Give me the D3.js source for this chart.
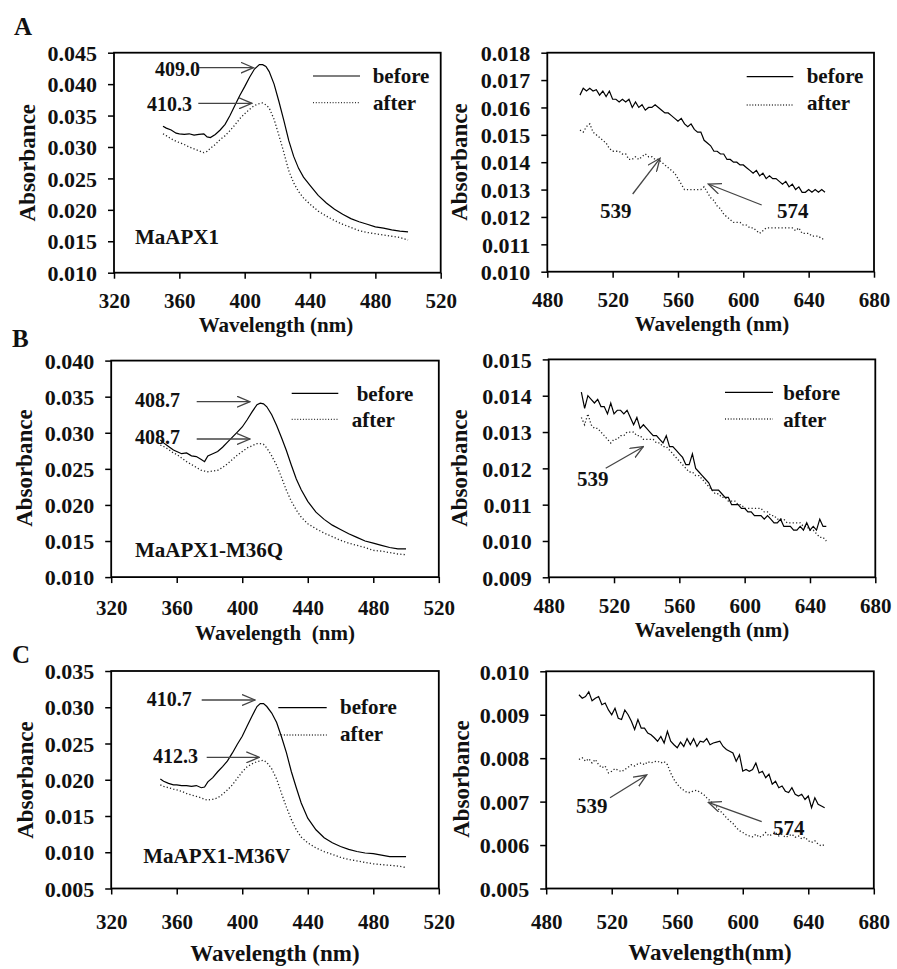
<!DOCTYPE html>
<html><head><meta charset="utf-8">
<script src="https://cdn.jsdelivr.net/npm/d3@7"></script>
<style>
body{margin:0;background:#fff;}
svg text{font-family:"Liberation Serif","Times New Roman",serif;font-weight:bold;fill:#111;}
</style></head><body>
<svg id="chart" width="897" height="969"></svg>
<script>
// ---------------- DATA ----------------
const wlSoret = [350,352,355,358,360,363,366,369,372,375,377,379,382,385,388,391,394,397,400,403,406,409,411,413,415,418,421,424,427,430,433,436,440,445,450,455,460,465,470,475,480,485,490,495,500];
const wlVis = [500,502,504,506,508,510,512,514,516,518,520,522,524,526,528,530,532,534,536,538,540,542,544,546,548,550,552,554,556,558,560,562,564,566,568,570,572,574,576,578,580,582,584,586,588,590,592,594,596,598,600,602,604,606,608,610,612,614,616,618,620,622,624,626,628,630,632,634,636,638,640,642,644,646,648,650];

const soretBeforeA = [.0333,.0330,.0327,.0322,.0321,.0320,.0321,.0319,.0320,.0321,.0316,.0315,.0320,.0327,.0336,.0350,.0366,.0382,.0396,.0411,.0424,.0431,.0431,.0428,.0420,.0400,.0372,.0342,.0310,.0285,.0266,.0252,.0239,.0223,.0211,.0201,.0193,.0186,.0181,.0177,.0173,.0171,.0168,.0166,.0165];
const soretAfterA  = [.0321,.0318,.0313,.0309,.0307,.0304,.0300,.0297,.0294,.0291,.0293,.0298,.0304,.0312,.0318,.0326,.0335,.0345,.0353,.0360,.0366,.0369,.0370,.0367,.0362,.0344,.0318,.0291,.0262,.0243,.0229,.0219,.0209,.0198,.0190,.0183,.0177,.0172,.0167,.0164,.0162,.0160,.0158,.0156,.0152];
const soretBeforeB = [.0290,.0286,.0281,.0276,.0274,.0271,.0272,.0268,.0267,.0263,.0260,.0268,.0271,.0274,.0280,.0287,.0294,.0301,.0308,.0318,.0329,.0339,.0341,.0340,.0336,.0325,.0310,.0293,.0275,.0255,.0236,.0221,.0205,.0190,.0180,.0172,.0166,.0160,.0155,.0150,.0147,.0144,.0141,.0139,.0139];
const soretAfterB  = [.0283,.0281,.0277,.0272,.0270,.0265,.0260,.0256,.0252,.0248,.0247,.0246,.0247,.0248,.0252,.0257,.0263,.0269,.0274,.0279,.0282,.0285,.0285,.0284,.0279,.0268,.0255,.0238,.0220,.0205,.0193,.0183,.0174,.0167,.0161,.0156,.0151,.0147,.0144,.0141,.0137,.0136,.0134,.0132,.0131];
const soretBeforeC = [.0201,.0198,.0195,.0193,.0193,.0192,.0192,.0191,.0192,.0189,.0190,.0197,.0203,.0211,.0218,.0226,.0237,.0249,.0260,.0274,.0288,.0301,.0305,.0305,.0301,.0292,.0279,.0259,.0237,.0211,.0189,.0168,.0147,.0131,.0120,.0113,.0108,.0104,.0101,.0099,.0098,.0096,.0094,.0094,.0094];
const soretAfterC  = [.0193,.0191,.0189,.0187,.0186,.0184,.0181,.0179,.0177,.0175,.0173,.0172,.0173,.0175,.0180,.0186,.0193,.0202,.0211,.0218,.0222,.0225,.0226,.0227,.0224,.0215,.0201,.0181,.0162,.0145,.0131,.0121,.0113,.0106,.0101,.0097,.0093,.0090,.0088,.0086,.0084,.0083,.0082,.0081,.0079];

const visBeforeA = [.01645,.0167,.0166,.0167,.0166,.01665,.01645,.0166,.0164,.0166,.0163,.0163,.0162,.0163,.0162,.0163,.0160,.0162,.0160,.0161,.0159,.0160,.0160,.0161,.0160,.0159,.0158,.0158,.0157,.0156,.0155,.0156,.0154,.0153,.0154,.0152,.0151,.0151,.0148,.0147,.0146,.0144,.0144,.0143,.0143,.0141,.0141,.0140,.0140,.0139,.0139,.0138,.0137,.0136,.0137,.0135,.0136,.0134,.0135,.0134,.0134,.0133,.0132,.0133,.0131,.0132,.0130,.0131,.0129,.0129,.0130,.0129,.0130,.0129,.0130,.0129];
const visAfterA  = [.01517,.0151,.0153,.0154,.0151,.0150,.0149,.0148,.0147,.0145,.0144,.0144,.0144,.0143,.0143,.0141,.0141,.0142,.0141,.0142,.0143,.0142,.0142,.0141,.0141,.0140,.0139,.0138,.0137,.0136,.0134,.0132,.0130,.0130,.0130,.0130,.0130,.0130,.0131,.0129,.0127,.0126,.0124,.0123,.0121,.0120,.0119,.0118,.0118,.0118,.0117,.0117,.0116,.0116,.0115,.0114,.0115,.0116,.0116,.0116,.0116,.0116,.0116,.0116,.0116,.0116,.0115,.0116,.0114,.0114,.0114,.0113,.0113,.0113,.0112,.0112];
const visBeforeB = [.0141,.01365,.0140,.0139,.0138,.0139,.0137,.0137,.0135,.0138,.0135,.0136,.0136,.0135,.0136,.0134,.0132,.0134,.0131,.0132,.0131,.0130,.0129,.0129,.0128,.0127,.0129,.0126,.0126,.0125,.0124,.0123,.0121,.0121,.0124,.0120,.0119,.0118,.0117,.0116,.0114,.0114,.0114,.0113,.0112,.0112,.0110,.0110,.0110,.0109,.0109,.0108,.0108,.0107,.0107,.0107,.0106,.0107,.0106,.0105,.0105,.0106,.0104,.0104,.0104,.0103,.0103,.0104,.0103,.0105,.0103,.0104,.0103,.0106,.0104,.0104];
const visAfterB  = [.0134,.0132,.0135,.0132,.0131,.0131,.0130,.0129,.0128,.0127,.0128,.0128,.0129,.0129,.0130,.0130,.0130,.0129,.0129,.0128,.0128,.0128,.0128,.0127,.0127,.0126,.0126,.0125,.0124,.0123,.0122,.0121,.0120,.0119,.0119,.0118,.0118,.0117,.0116,.0115,.0114,.0113,.0113,.0112,.0112,.0111,.0111,.0111,.0110,.0110,.0109,.0109,.0109,.0109,.0109,.0109,.0108,.0108,.0107,.0107,.0106,.0106,.0106,.0105,.0105,.0105,.0105,.0105,.0104,.0104,.0103,.0103,.0102,.0101,.0101,.0100];
const visBeforeC = [.00946,.00938,.00942,.00953,.00932,.00938,.00942,.00923,.00927,.00911,.00900,.00915,.00892,.00889,.00911,.00900,.00885,.00866,.00889,.00869,.00869,.00858,.00854,.00847,.00839,.00850,.00835,.00862,.00839,.00831,.00824,.00837,.00827,.00845,.00831,.00845,.00827,.00839,.00837,.00845,.00831,.00835,.00837,.00839,.00827,.00820,.00816,.00812,.00793,.00808,.00770,.00774,.00770,.00774,.00789,.00766,.00770,.00755,.00763,.00740,.00747,.00732,.00736,.00724,.00721,.00732,.00717,.00713,.00717,.00705,.00713,.00686,.00709,.00694,.00690,.00686];
const visAfterC  = [.00797,.00801,.00793,.00799,.00789,.00797,.00785,.00778,.00782,.00766,.00770,.00776,.00772,.00769,.00774,.00779,.00785,.00782,.00787,.00789,.00785,.00792,.00789,.00792,.00793,.00789,.00792,.00785,.00766,.00751,.00740,.00732,.00726,.00721,.00721,.00725,.00726,.00721,.00717,.00709,.00702,.00695,.00688,.00679,.00672,.00663,.00656,.00650,.00640,.00633,.00629,.00624,.00621,.00619,.00625,.00618,.00621,.00629,.00621,.00625,.00629,.00621,.00625,.00618,.00621,.00625,.00618,.00621,.00614,.00618,.00610,.00606,.00610,.00602,.00598,.00601];

const xTicksSoret = [320,360,400,440,480,520];
const xTicksVis = [480,520,560,600,640,680];
const yTicksA1 = [0.010,0.015,0.020,0.025,0.030,0.035,0.040,0.045];
const yTicksA2 = [0.010,0.011,0.012,0.013,0.014,0.015,0.016,0.017,0.018];
const yTicksB1 = [0.010,0.015,0.020,0.025,0.030,0.035,0.040];
const yTicksB2 = [0.009,0.010,0.011,0.012,0.013,0.014,0.015];
const yTicksC1 = [0.005,0.010,0.015,0.020,0.025,0.030,0.035];
const yTicksC2 = [0.005,0.006,0.007,0.008,0.009,0.010];
const seriesNames = ["before","after"];

// ---------------- DRAW ----------------
const svg = d3.select("#chart");
const defs = svg.append("defs");
defs.append("marker").attr("id","ah").attr("viewBox","0 0 14 12").attr("refX",13).attr("refY",6)
  .attr("markerWidth",14).attr("markerHeight",12).attr("markerUnits","userSpaceOnUse").attr("orient","auto")
  .append("path").attr("d","M0,0.5 L13,6 L0,11.5").attr("fill","none").attr("stroke","#444").attr("stroke-width",1.3);

function panel(c){
  const x = d3.scaleLinear().domain(c.xd).range([c.x0,c.x1]);
  const y = d3.scaleLinear().domain(c.yd).range([c.y1,c.y0]);
  const g = svg.append("g");
  // axes
  const ax = g.append("g").attr("transform",`translate(0,${c.y1})`)
    .call(d3.axisBottom(x).tickValues(c.xt).tickSize(6).tickSizeOuter(0).tickFormat(d3.format("d")));
  ax.select(".domain").remove();
  ax.selectAll("line").attr("stroke","#000").attr("stroke-width",1.5);
  ax.selectAll("text").attr("y",c.xlb).attr("dy",0).style("font-size","21px").attr("fill","#111");
  const ay = g.append("g").attr("transform",`translate(${c.x0},0)`)
    .call(d3.axisLeft(y).tickValues(c.yt).tickSize(6).tickSizeOuter(0).tickFormat(d3.format(".3f")));
  ay.select(".domain").remove();
  ay.selectAll("line").attr("stroke","#000").attr("stroke-width",1.5);
  ay.selectAll("text").attr("x",-17).attr("dy","0.35em").style("font-size","22px").attr("fill","#111");
  // frame
  g.append("rect").attr("x",c.x0).attr("y",c.y0).attr("width",c.x1-c.x0).attr("height",c.y1-c.y0)
    .attr("fill","none").attr("stroke","#000").attr("stroke-width",1.8);
  // lines
  const line = d3.line().x((d,i)=>x(c.wl[i])).y(d=>y(d));
  g.append("path").datum(c.after).attr("d",line).attr("fill","none").attr("stroke","#222")
    .attr("stroke-width",1.3).attr("stroke-dasharray","1.2 2.2");
  g.append("path").datum(c.before).attr("d",line).attr("fill","none").attr("stroke","#000")
    .attr("stroke-width",1.2);
  // axis titles
  g.append("text").attr("transform",`translate(${c.ytx},${c.yty}) rotate(-90)`).attr("dy","0.35em")
    .attr("text-anchor","middle").style("font-size","23px").text("Absorbance");
  g.append("text").attr("x",c.xtx).attr("y",c.xty).attr("text-anchor","middle")
    .style("font-size",c.xtfs+"px").style("white-space","pre").attr("xml:space","preserve").text(c.xtitle);
  // legend
  if(c.leg){
    const L=c.leg;
    g.append("line").attr("x1",L.x1).attr("x2",L.x2).attr("y1",L.y1).attr("y2",L.y1).attr("stroke","#000").attr("stroke-width",1.2);
    g.append("line").attr("x1",L.x1).attr("x2",L.x2).attr("y1",L.y2).attr("y2",L.y2).attr("stroke","#333").attr("stroke-width",1.3).attr("stroke-dasharray","1 1.8");
    g.append("text").attr("x",L.tx1).attr("y",L.b1).style("font-size","21px").text(seriesNames[0]);
    g.append("text").attr("x",L.tx2).attr("y",L.b2).style("font-size","21px").text(seriesNames[1]);
  }
  // annotations
  (c.ann||[]).forEach(a=>{
    g.append("text").attr("x",a.tx).attr("y",a.ty).style("font-size",(a.fs||20)+"px").text(a.t);
    g.append("line").attr("x1",a.ax1).attr("y1",a.ay1).attr("x2",a.ax2).attr("y2",a.ay2)
      .attr("stroke","#444").attr("stroke-width",1.3).attr("marker-end","url(#ah)");
  });
  if(c.name) g.append("text").attr("x",c.name.x).attr("y",c.name.y).style("font-size","21px").text(c.name.t);
}

// panel letters
[["A",14,35],["B",12,347],["C",12,663]].forEach(l=>svg.append("text").attr("x",l[1]).attr("y",l[2]).style("font-size","25px").text(l[0]));

panel({x0:114,x1:440.7,y0:52.7,y1:272.7,xd:[320,520],yd:[0.010,0.045],xt:xTicksSoret,yt:yTicksA1,xlb:35,
  wl:wlSoret,before:soretBeforeA,after:soretAfterA,ytx:27,yty:162.7,xtx:276,xty:332,xtfs:21,xtitle:"Wavelength (nm)",
  leg:{x1:313,x2:360,y1:76,y2:102.7,tx1:372.7,b1:83,tx2:373,b2:110},
  ann:[{t:"409.0",tx:155,ty:76,ax1:199,ay1:67.7,ax2:253.5,ay2:67.7},{t:"410.3",tx:147,ty:111,ax1:198.3,ay1:103.3,ax2:252,ay2:103.3}],
  name:{t:"MaAPX1",x:135,y:244}});
panel({x0:547.3,x1:874,y0:52.7,y1:271.7,xd:[480,680],yd:[0.010,0.018],xt:xTicksVis,yt:yTicksA2,xlb:35,
  wl:wlVis,before:visBeforeA,after:visAfterA,ytx:458.5,yty:162,xtx:712,xty:331,xtfs:21,xtitle:"Wavelength (nm)",
  leg:{x1:746.7,x2:793.3,y1:76.7,y2:105,tx1:806.7,b1:83,tx2:807,b2:110},
  ann:[{t:"539",tx:600,ty:218,fs:21,ax1:632.7,ay1:194,ax2:660,ay2:158.3},{t:"574",tx:777,ty:218,fs:21,ax1:761.7,ay1:205,ax2:708.3,ay2:184}]});
panel({x0:111.2,x1:438.8,y0:360.6,y1:577.1,xd:[320,520],yd:[0.010,0.040],xt:xTicksSoret,yt:yTicksB1,xlb:38,
  wl:wlSoret,before:soretBeforeB,after:soretAfterB,ytx:24,yty:468,xtx:275,xty:640,xtfs:21,xtitle:"Wavelength  (nm)",
  leg:{x1:291.7,x2:338.3,y1:393.3,y2:419.3,tx1:356.7,b1:401,tx2:351.7,b2:427.3},
  ann:[{t:"408.7",tx:135,ty:407.3,ax1:196.7,ay1:401.7,ax2:250,ay2:401.7},{t:"408.7",tx:135,ty:444,ax1:196.7,ay1:439,ax2:250,ay2:439}],
  name:{t:"MaAPX1-M36Q",x:135,y:557.3}});
panel({x0:548.7,x1:875.3,y0:359.4,y1:577.3,xd:[480,680],yd:[0.009,0.015],xt:xTicksVis,yt:yTicksB2,xlb:36,
  wl:wlVis,before:visBeforeB,after:visAfterB,ytx:458.5,yty:468,xtx:712,xty:637,xtfs:21,xtitle:"Wavelength (nm)",
  leg:{x1:725,x2:773,y1:392.3,y2:419,tx1:783.3,b1:400,tx2:783.3,b2:426.7},
  ann:[{t:"539",tx:577,ty:486,fs:21,ax1:605.7,ay1:468.3,ax2:643.3,ay2:446.7}]});
panel({x0:111.2,x1:438.8,y0:671,y1:888.5,xd:[320,520],yd:[0.005,0.035],xt:xTicksSoret,yt:yTicksC1,xlb:40,
  wl:wlSoret,before:soretBeforeC,after:soretAfterC,ytx:25,yty:780,xtx:275,xty:961,xtfs:23,xtitle:"Wavelength (nm)",
  leg:{x1:278.3,x2:326.7,y1:707.7,y2:735,tx1:340,b1:714,tx2:340,b2:741},
  ann:[{t:"410.7",tx:146.7,ty:705.7,ax1:201.7,ay1:700,ax2:255,ay2:700},{t:"412.3",tx:153,ty:763.3,ax1:206.7,ay1:757.3,ax2:259.3,ay2:757.3}],
  name:{t:"MaAPX1-M36V",x:143.3,y:862.7}});
panel({x0:546.2,x1:873.8,y0:671.3,y1:888.5,xd:[480,680],yd:[0.005,0.010],xt:xTicksVis,yt:yTicksC2,xlb:40,
  wl:wlVis,before:visBeforeC,after:visAfterC,ytx:461,yty:779,xtx:710,xty:960,xtfs:23,xtitle:"Wavelength(nm)",
  ann:[{t:"539",tx:576,ty:813.3,fs:21,ax1:610,ay1:797.7,ax2:646.7,ay2:775},{t:"574",tx:773,ty:835,fs:21,ax1:761.7,ay1:821.7,ax2:708.3,ay2:802.3}]});
</script>
</body></html>
